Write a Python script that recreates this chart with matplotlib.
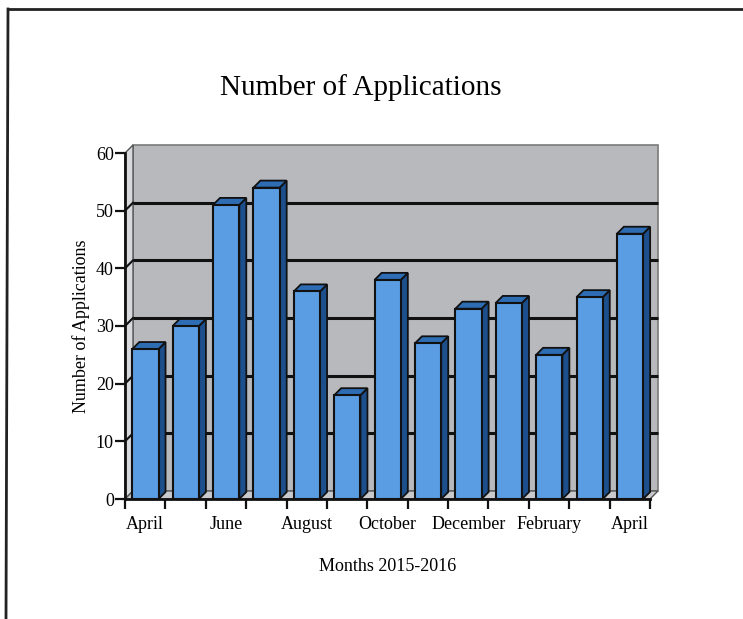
import matplotlib
matplotlib.use("Agg")
import matplotlib.pyplot as plt
from matplotlib.patches import Polygon
from matplotlib.lines import Line2D

months = ["April", "May", "June", "July", "August", "September", "October",
          "November", "December", "January", "February", "March", "April"]
shown_labels = ["April", "", "June", "", "August", "", "October", "",
                "December", "", "February", "", "April"]
applications = [26, 30, 51, 54, 36, 18, 38, 27, 33, 34, 25, 35, 46]
y_ticks = [0, 10, 20, 30, 40, 50, 60]

W, H = 743, 619
fig = plt.figure(figsize=(W / 100, H / 100), dpi=100)
fig.patch.set_facecolor("white")
plt.rcParams["font.family"] = ["Liberation Serif", "DejaVu Serif"]

# front plane of the 3D box (pixels)
left_px, right_px, bot_px, top_px = 125, 650, 499, 153
ax = fig.add_axes([left_px / W, 1 - bot_px / H, (right_px - left_px) / W,
                   (bot_px - top_px) / H])
n = len(applications)
ymax = 60
ax.set_xlim(0, n)
ax.set_ylim(0, ymax)
ax.set_facecolor("none")

# depth offsets in data units
px_x = n / (right_px - left_px)
px_y = ymax / (bot_px - top_px)
wdx, wdy = 8 * px_x, 8 * px_y     # wall depth
bdx, bdy = 7 * px_x, 7 * px_y     # bar depth

wall_col = "#b7b9bd"
side_col = "#d8d9dc"
floor_col = "#c9cacd"

# back wall
ax.add_patch(Polygon([(wdx, wdy), (n + wdx, wdy), (n + wdx, ymax + wdy), (wdx, ymax + wdy)],
                     closed=True, facecolor=wall_col, edgecolor="#7a7a7a", lw=1.2,
                     clip_on=False, zorder=0))
# left wall
ax.add_patch(Polygon([(0, 0), (wdx, wdy), (wdx, ymax + wdy), (0, ymax)],
                     closed=True, facecolor=side_col, edgecolor="#555555", lw=1.0,
                     clip_on=False, zorder=0.5))
# floor
ax.add_patch(Polygon([(0, 0), (n, 0), (n + wdx, wdy), (wdx, wdy)],
                     closed=True, facecolor=floor_col, edgecolor="#555555", lw=1.0,
                     clip_on=False, zorder=0.5))

# gridlines on back wall and left wall
for v in y_ticks[1:-1]:
    ax.plot([wdx, n + wdx], [v + wdy, v + wdy], color="#111111", lw=2.2,
            clip_on=False, zorder=1, solid_capstyle="butt")
    ax.plot([0, wdx], [v, v + wdy], color="#111111", lw=1.5, clip_on=False, zorder=1)

# bars
front_col = "#5b9de3"
top_col = "#2e6db4"
rside_col = "#1d4f8c"
start, width = 0.18, 0.65
for i, v in enumerate(applications):
    x0 = i + start
    x1 = x0 + width
    ax.add_patch(Polygon([(x1, 0), (x1 + bdx, bdy), (x1 + bdx, v + bdy), (x1, v)],
                         closed=True, facecolor=rside_col, edgecolor="#111111", lw=1.3,
                         clip_on=False, zorder=3))
    ax.add_patch(Polygon([(x0, v), (x1, v), (x1 + bdx, v + bdy), (x0 + bdx, v + bdy)],
                         closed=True, facecolor=top_col, edgecolor="#111111", lw=1.3,
                         clip_on=False, zorder=3))
    ax.add_patch(Polygon([(x0, 0), (x1, 0), (x1, v), (x0, v)],
                         closed=True, facecolor=front_col, edgecolor="#111111", lw=1.5,
                         clip_on=False, zorder=4))

# axes spines and ticks
for s in ["top", "right"]:
    ax.spines[s].set_visible(False)
for s in ["left", "bottom"]:
    ax.spines[s].set_linewidth(2.0)
    ax.spines[s].set_color("#111111")
    ax.spines[s].set_zorder(5)

ax.set_yticks(y_ticks)
ax.set_yticklabels([str(t) for t in y_ticks], fontsize=13)
ax.set_xticks(range(n + 1))
ax.set_xticklabels([""] * (n + 1))
ax.set_xticks([i + 0.5 for i in range(n)], minor=True)
ax.set_xticklabels(shown_labels, minor=True, fontsize=13)
ax.tick_params(axis="both", which="major", direction="out", length=7, width=1.6,
               color="#111111", pad=1)
ax.tick_params(axis="x", which="minor", length=0, pad=12)

ax.set_ylabel("Number of Applications", fontsize=13, labelpad=4)
ax.set_xlabel("Months 2015-2016", fontsize=13, labelpad=18)

fig.text(361 / W, 1 - 88 / H, "Number of Applications", fontsize=21,
         ha="center", va="center")

# page border from the scan
fig.add_artist(Line2D([8 / W, 1.0], [1 - 9 / H, 1 - 9 / H], color="#222222", lw=2.0,
                      transform=fig.transFigure))
fig.add_artist(Line2D([8 / W, 6 / W], [1 - 9 / H, 0.0], color="#222222", lw=2.0,
                      transform=fig.transFigure))

fig.savefig("out.png", dpi=100)
